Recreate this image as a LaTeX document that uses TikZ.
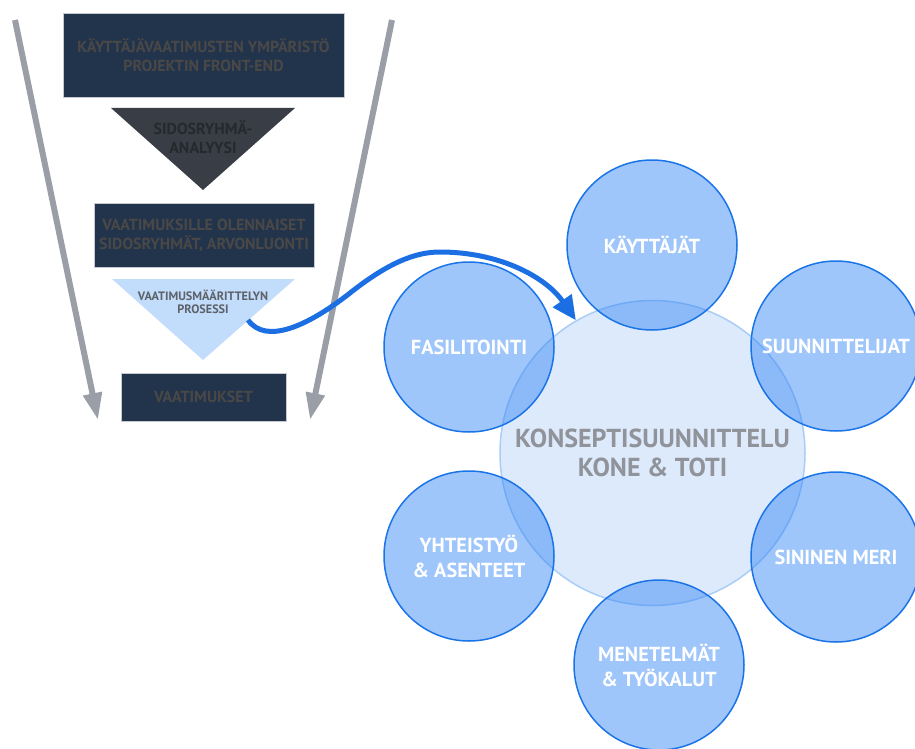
\documentclass[tikz,border=0pt]{standalone}
\usepackage{fontspec}
\setmainfont{PT Sans}
\usetikzlibrary{arrows.meta}
\definecolor{navy}{HTML}{22344C}
\definecolor{boxtext}{HTML}{4A4846}
\definecolor{boxline}{HTML}{C5CAD1}
\definecolor{trione}{HTML}{393E46}
\definecolor{trionetext}{HTML}{25282D}
\definecolor{tritwo}{HTML}{C2DCFC}
\definecolor{tritwotext}{HTML}{5D6168}
\definecolor{grayarr}{HTML}{9A9FA7}
\definecolor{bluearr}{HTML}{1B6FE2}
\definecolor{satfill}{RGB}{50,133,245}
\definecolor{satline}{HTML}{1A74E8}
\definecolor{cfill}{HTML}{DDEAFC}
\definecolor{cline}{HTML}{A9CDF7}
\definecolor{ctext}{HTML}{909399}
\tikzset{
  darkbox/.style={draw=boxline, line width=0.8pt, fill=navy, text=boxtext, font=\bfseries\fontsize{16}{19}\selectfont, align=center, inner sep=0pt},
  tritext/.style={font=\bfseries\fontsize{16}{19}\selectfont, align=center, inner sep=0pt},
  grayarrow/.style={draw=grayarr, line width=6pt, -{Triangle[length=27pt,width=18pt]}},
  bluearrow/.style={draw=bluearr, line width=5pt, -{Triangle[length=24pt,width=22pt]}},
  sat/.style={circle, minimum size=170pt, inner sep=0pt, fill=satfill, fill opacity=0.47, draw=satline, draw opacity=1, line width=1.5pt, text opacity=1, text=white, font=\bfseries\fontsize{20.3}{25}\selectfont, align=center},
  centre/.style={circle, minimum size=305pt, inner sep=0pt, fill=cfill, draw=cline, line width=1.5pt, text=ctext, font=\bfseries\fontsize{26}{29}\selectfont, align=center}
}
\begin{document}
\begin{tikzpicture}[x=1pt,y=-1pt]
\useasboundingbox (0,0) rectangle (915,749);
% funnel arrows
\coordinate (la1) at (15,20);
\coordinate (la2) at (98,420);
\coordinate (ra1) at (392,20);
\coordinate (ra2) at (310,420);
\draw[grayarrow] (la1) -- (la2);
\draw[grayarrow] (ra1) -- (ra2);
% boxes
\node[darkbox, minimum width=281pt, minimum height=84pt] (box1) at (203.5,55) {KÄYTTÄJÄVAATIMUSTEN YMPÄRISTÖ\\PROJEKTIN FRONT-END};
\fill[trione] (111,108) -- (295,108) -- (203,190) -- cycle;
\node[tritext, text=trionetext] (tri1) at (203,137.5) {SIDOSRYHMÄ-\\ANALYYSI};
\node[darkbox, minimum width=220pt, minimum height=64pt] (box2) at (204,235) {VAATIMUKSILLE OLENNAISET\\SIDOSRYHMÄT, ARVONLUONTI};
\fill[tritwo] (112,279) -- (295,279) -- (203,360) -- cycle;
\node[tritext, text=tritwotext, font=\bfseries\fontsize{12.2}{13.5}\selectfont] (tri2) at (203,302) {VAATIMUSMÄÄRITTELYN\\PROSESSI};
\coordinate (tri2e) at (248,320);
\node[darkbox, minimum width=165pt, minimum height=48pt] (box3) at (203.5,397) {VAATIMUKSET};
% circles
\node[centre] (c) at (652.5,453) {KONSEPTISUUNNITTELU\\KONE \& TOTI};
\node[sat] (k) at (652,245) {KÄYTTÄJÄT};
\node[sat] (s) at (836,346) {SUUNNITTELIJAT};
\node[sat] (f) at (469,347) {FASILITOINTI};
\node[sat] (y) at (469,556) {YHTEISTYÖ\\\& ASENTEET};
\node[sat] (sm) at (836,557) {SININEN MERI};
\node[sat] (m) at (659,665) {MENETELMÄT\\\& TYÖKALUT};
% blue arrow
\draw[bluearrow] (tri2e) .. controls (266,345) and (308,326) .. (350,293)
  .. controls (388,263) and (415,252) .. (440,252)
  .. controls (498,252) and (545,276) .. (c.120);
\end{tikzpicture}
\end{document}
